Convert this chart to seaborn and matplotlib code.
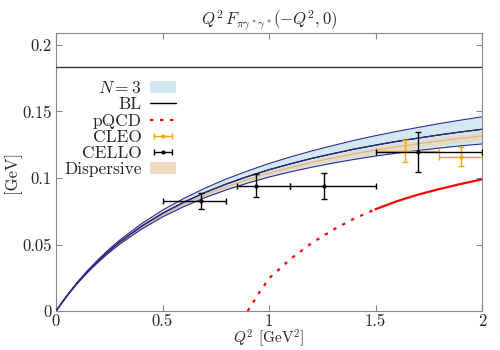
import matplotlib
matplotlib.use('Agg')
import matplotlib.pyplot as plt
import numpy as np
import pandas as pd
import seaborn as sns
from matplotlib.patches import Patch
from matplotlib.lines import Line2D

# Q^2 grid (GeV^2) for the theory curves
q2 = [0, 0.05, 0.1, 0.15, 0.2, 0.25, 0.3, 0.4, 0.5, 0.6, 0.7, 0.8, 0.9, 1.0,
      1.1, 1.2, 1.3, 1.4, 1.5, 1.6, 1.7, 1.8, 1.9, 2.0]

# BL central curve and N=3 band edges (GeV)
bl = [0, 0.0112, 0.0212, 0.0301, 0.0381, 0.0454, 0.0520, 0.0636, 0.0734, 0.0818,
      0.0891, 0.0955, 0.1011, 0.1062, 0.1106, 0.1147, 0.1183, 0.1217, 0.1247,
      0.1275, 0.1300, 0.1324, 0.1346, 0.1366]
n3_hi = [0, 0.0114, 0.0217, 0.0308, 0.0390, 0.0466, 0.0534, 0.0655, 0.0758, 0.0846,
         0.0924, 0.0993, 0.1053, 0.1109, 0.1158, 0.1203, 0.1244, 0.1283, 0.1318,
         0.1350, 0.1380, 0.1409, 0.1435, 0.1460]
n3_lo = [0, 0.0109, 0.0207, 0.0293, 0.0370, 0.0440, 0.0504, 0.0614, 0.0707, 0.0785,
         0.0853, 0.0911, 0.0962, 0.1007, 0.1046, 0.1081, 0.1112, 0.1140, 0.1165,
         0.1187, 0.1207, 0.1225, 0.1242, 0.1256]

# dispersive band
disp_hi = [0, 0.0112, 0.0211, 0.0300, 0.0379, 0.0452, 0.0518, 0.0633, 0.0730, 0.0813,
           0.0885, 0.0949, 0.1004, 0.1054, 0.1097, 0.1137, 0.1173, 0.1206, 0.1235,
           0.1262, 0.1286, 0.1310, 0.1331, 0.1350]
disp_lo = [0, 0.0110, 0.0208, 0.0295, 0.0373, 0.0444, 0.0507, 0.0619, 0.0713, 0.0793,
           0.0862, 0.0921, 0.0973, 0.1020, 0.1060, 0.1097, 0.1128, 0.1158, 0.1184,
           0.1208, 0.1229, 0.1248, 0.1266, 0.1282]

# pQCD
pq_q2 = [0.9, 0.95, 1.0, 1.1, 1.2, 1.3, 1.4, 1.5, 1.6, 1.7, 1.8, 1.9, 2.0]
pq_val = [0.0, 0.0128, 0.0245, 0.039, 0.051, 0.061, 0.0695, 0.0765, 0.0825,
          0.0875, 0.0917, 0.0955, 0.099]
asymptote = 0.1835

# CELLO data
cello_q2 = [0.68, 0.94, 1.26, 1.70]
cello_val = [0.0827, 0.0942, 0.094, 0.1193]
cello_yerr = [0.006, 0.0085, 0.010, 0.015]
cello_xlo = [0.18, 0.09, 0.16, 0.20]
cello_xhi = [0.12, 0.16, 0.24, 0.30]

# CLEO data
cleo_q2 = [1.64, 1.90]
cleo_val = [0.1203, 0.116]
cleo_yerr = [0.0082, 0.0072]
cleo_xlo = [0.14, 0.10]
cleo_xhi = [0.16, 0.15]

df = pd.DataFrame({'Q2': q2, 'BL': bl, 'hi': n3_hi, 'lo': n3_lo})
pq = pd.DataFrame({'Q2': pq_q2, 'val': pq_val})

sns.set_style('ticks')
plt.rcParams['font.family'] = ['cmr10', 'DejaVu Serif']
plt.rcParams['mathtext.fontset'] = 'cm'
plt.rcParams['axes.formatter.use_mathtext'] = True

fig = plt.figure(figsize=(5, 3.5), dpi=100)
ax = fig.add_axes([0.112, 0.1114, 0.852, 0.7943])

navy = '#2a2a96'
ax.fill_between(q2, n3_lo, n3_hi, color='#d2e9f1', lw=0, zorder=1)
ax.fill_between(q2, disp_lo, disp_hi, color='#e8d7bd', alpha=0.8, lw=0, zorder=2)
ax.plot(q2, [(a + b) / 2 for a, b in zip(disp_lo, disp_hi)], color='#d8b48a', lw=0.8, zorder=2)

sns.lineplot(data=df, x='Q2', y='BL', color='black', lw=0.9, ax=ax, zorder=3)
for col in ['hi', 'BL', 'lo']:
    sns.lineplot(data=df, x='Q2', y=col, color=navy, lw=0.8, ax=ax, zorder=4)

dashed = pq[pq['Q2'] <= 1.5]
solid = pq[pq['Q2'] >= 1.5]
sns.lineplot(data=dashed, x='Q2', y='val', color='red', lw=1.6, ax=ax, zorder=3)
ax.lines[-1].set_dashes((1.5, 3))
sns.lineplot(data=solid, x='Q2', y='val', color='red', lw=1.6, ax=ax, zorder=3)

ax.axhline(asymptote, color='#333333', lw=1, zorder=3)

ax.errorbar(cleo_q2, cleo_val, yerr=cleo_yerr, xerr=[cleo_xlo, cleo_xhi], fmt='o',
            ms=2, color='orange', lw=1, capsize=2.5, capthick=1, zorder=5)
ax.errorbar(cello_q2, cello_val, yerr=cello_yerr, xerr=[cello_xlo, cello_xhi], fmt='o',
            ms=2, color='black', lw=1, capsize=2.5, capthick=1, zorder=6)

# legend-only handles (horizontal bar with caps)
cleo_h = ax.errorbar([np.nan], [np.nan], xerr=[0.1], fmt='o', ms=2, color='orange',
                     lw=1, capsize=2.5, capthick=1)
cello_h = ax.errorbar([np.nan], [np.nan], xerr=[0.1], fmt='o', ms=2, color='black',
                      lw=1, capsize=2.5, capthick=1)

ax.set_xlim(0, 2)
ax.set_ylim(0, 0.209)
ax.set_xticks([0, 0.5, 1, 1.5, 2])
ax.set_xticklabels(['0', '0.5', '1', '1.5', '2'])
ax.set_yticks([0, 0.05, 0.1, 0.15, 0.2])
ax.set_yticklabels(['0', '0.05', '0.1', '0.15', '0.2'])
ax.tick_params(direction='in', top=True, right=True, labelsize=12, length=4,
               color='#888888', pad=3)
ax.tick_params(axis='x', pad=2)
for s in ax.spines.values():
    s.set_color('#888888')
ax.set_xlabel(r'$Q^2$ [GeV$^2$]', fontsize=11, labelpad=-1)
ax.set_ylabel('[GeV]', fontsize=12, labelpad=1)
ax.set_title(r'$Q^2\,F_{\pi\gamma^*\gamma^*}(-Q^2,0)$', fontsize=12, pad=6)

h_n3 = Patch(facecolor='#d2e9f1', edgecolor='none')
h_bl = Line2D([], [], color='black', lw=1)
h_pq = Line2D([], [], color='red', lw=1.6, dashes=(1.5, 3))
h_disp = Patch(facecolor='#f0dcc0', edgecolor='none')
ax.legend([h_n3, h_bl, h_pq, cleo_h, cello_h, h_disp],
          ['$N=3$', 'BL', 'pQCD', 'CLEO', 'CELLO', 'Dispersive'],
          loc='upper left', bbox_to_anchor=(0.02, 0.83), frameon=False,
          markerfirst=False, fontsize=12.5, handlelength=1.5, handletextpad=0.45,
          labelspacing=0.05, borderpad=0, borderaxespad=0)

fig.savefig('out.png', dpi=100)
